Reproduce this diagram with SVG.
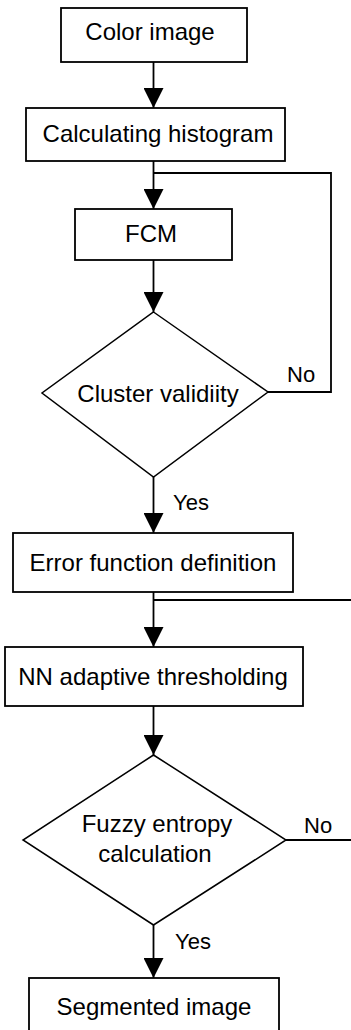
<svg xmlns="http://www.w3.org/2000/svg" width="351" height="1030" viewBox="0 0 351 1030">
<style>
.box{fill:#fff;stroke:#000;stroke-width:1.8}
.dia{fill:#fff;stroke:#000;stroke-width:1.5}
.ln{fill:none;stroke:#000;stroke-width:1.8}
text{font-family:"Liberation Sans",Arial,sans-serif;font-size:24px;fill:#000;text-anchor:middle}
.lbl{font-size:22px;text-anchor:start}
</style>
<defs>
<marker id="ah" markerUnits="userSpaceOnUse" markerWidth="20" markerHeight="20" viewBox="0 0 20 20" refX="20" refY="10" orient="auto">
<path d="M0,0 L20,10 L0,20 Z" fill="#000"/>
</marker>
</defs>
<rect width="351" height="1030" fill="#fff"/>
<g id="connectors">
<line class="ln" x1="153.5" y1="62" x2="153.5" y2="108" marker-end="url(#ah)"/>
<line class="ln" x1="153.5" y1="161" x2="153.5" y2="209" marker-end="url(#ah)"/>
<polyline class="ln" points="153.5,173 331,173 331,392 268,392"/>
<line class="ln" x1="153.5" y1="260" x2="153.5" y2="312" marker-end="url(#ah)"/>
<line class="ln" x1="153.5" y1="477" x2="153.5" y2="533" marker-end="url(#ah)"/>
<line class="ln" x1="153.5" y1="592" x2="153.5" y2="647" marker-end="url(#ah)"/>
<line class="ln" x1="153.5" y1="600" x2="351" y2="600"/>
<line class="ln" x1="153.5" y1="706" x2="153.5" y2="755" marker-end="url(#ah)"/>
<line class="ln" x1="286" y1="840" x2="351" y2="840"/>
<line class="ln" x1="153.5" y1="925" x2="153.5" y2="978" marker-end="url(#ah)"/>
<text class="lbl" x="287" y="382">No</text>
<text class="lbl" x="173" y="510">Yes</text>
<text class="lbl" x="304" y="833">No</text>
<text class="lbl" x="175" y="949">Yes</text>
</g>
<g id="color-image">
<rect class="box" x="61" y="8" width="186" height="54"/>
<text x="150" y="40">Color image</text>
</g>
<g id="calc-hist">
<rect class="box" x="26" y="108" width="259" height="53"/>
<text x="158" y="142">Calculating histogram</text>
</g>
<g id="fcm">
<rect class="box" x="75" y="209" width="157" height="51"/>
<text x="151" y="242">FCM</text>
</g>
<g id="cluster-validity">
<polygon class="dia" points="153.5,312 268,392 153.5,477 42,393"/>
<text x="158" y="402">Cluster validiity</text>
</g>
<g id="error-func">
<rect class="box" x="13" y="533" width="280" height="59"/>
<text x="153" y="571">Error function definition</text>
</g>
<g id="nn-thresh">
<rect class="box" x="5" y="647" width="298" height="59"/>
<text x="153" y="685">NN adaptive thresholding</text>
</g>
<g id="fuzzy-entropy">
<polygon class="dia" points="153.5,755 286,840 153.5,925 23,840"/>
<text x="157" y="832">Fuzzy entropy</text>
<text x="155" y="862">calculation</text>
</g>
<g id="segmented">
<rect class="box" x="29" y="978" width="250" height="70"/>
<text x="154" y="1015">Segmented image</text>
</g>
</svg>
